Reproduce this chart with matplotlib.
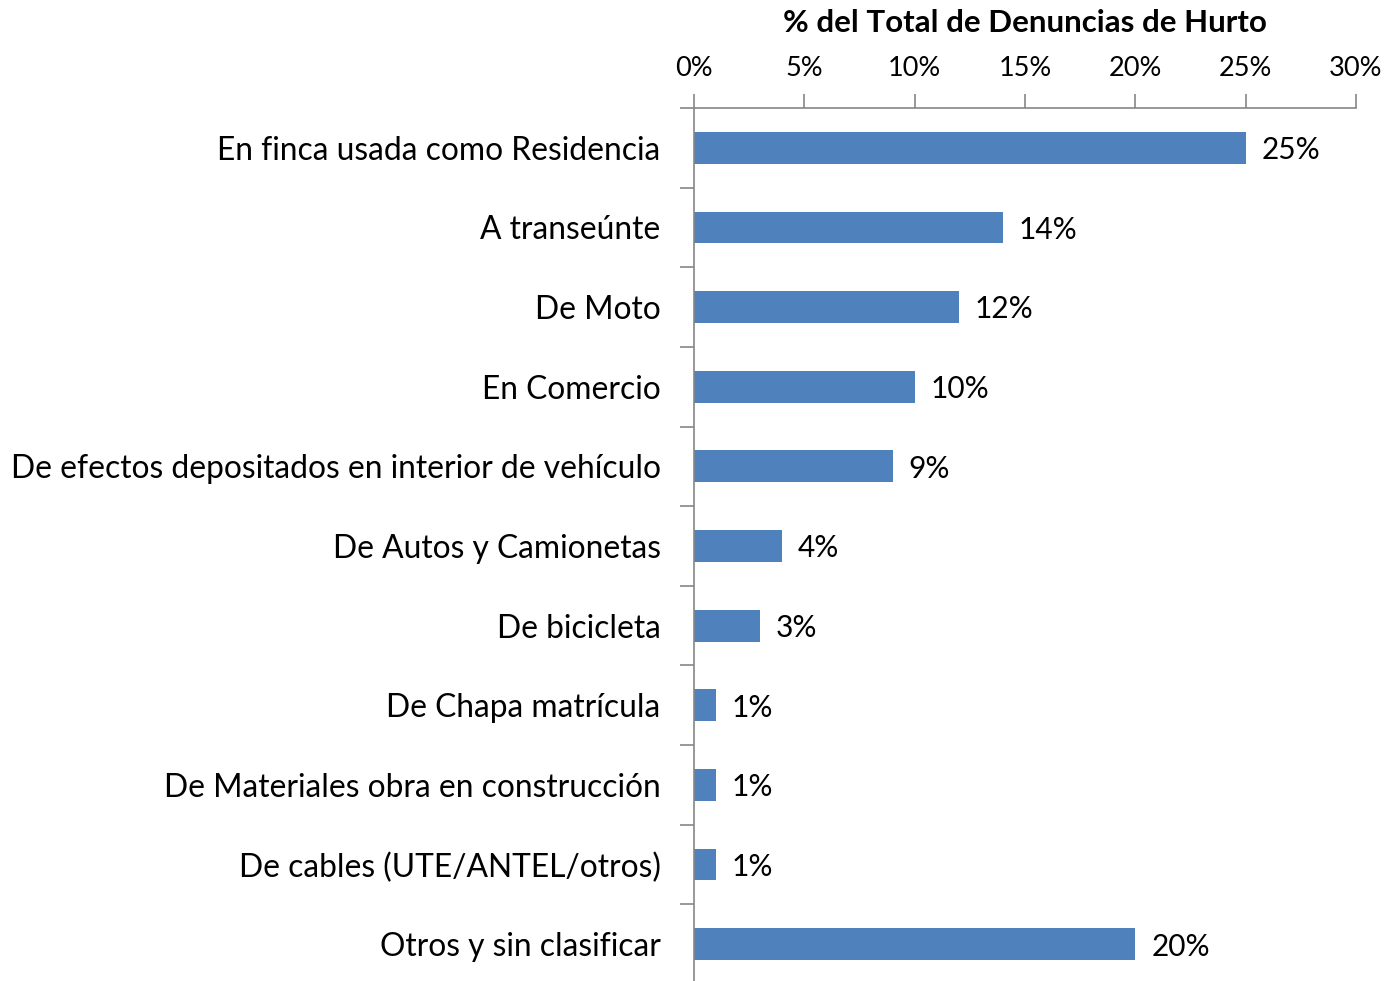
import matplotlib.pyplot as plt
import numpy as np

categories = ["En finca usada como Residencia", "A transeúnte", "De Moto", "En Comercio",
              "De efectos depositados en interior de vehículo", "De Autos y Camionetas",
              "De bicicleta", "De Chapa matrícula", "De Materiales obra en construcción",
              "De cables (UTE/ANTEL/otros)", "Otros y sin clasificar"]
values = [25, 14, 12, 10, 9, 4, 3, 1, 1, 1, 20]
xticks = [0, 5, 10, 15, 20, 25, 30]

plt.rcParams['font.family'] = ['Lato', 'DejaVu Sans']

fig = plt.figure(figsize=(13.91, 9.81), dpi=100)
ax = fig.add_axes([694/1391, 1 - 984/981, (1356 - 694)/1391, (984 - 108)/981])

y = np.arange(len(categories))
ax.barh(y, values, height=0.4, color='#4F81BD')
ax.set_ylim(len(categories) - 0.5, -0.5)
ax.set_xlim(0, 30)

for yi, v in zip(y, values):
    ax.text(v + 0.72, yi + 0.03, f"{v}%", va='center', ha='left', fontsize=21.5)

ax.xaxis.tick_top()
ax.xaxis.set_label_position('top')
ax.set_xticks(xticks)
ax.set_xticklabels([f"{t}%" for t in xticks], fontsize=19.5)
ax.set_xlabel('% del Total de Denuncias de Hurto', fontsize=22.5, fontweight='bold', labelpad=17)

ax.set_yticks(y)
ax.set_yticklabels(categories, fontsize=22.9)
ax.set_yticks(np.arange(len(categories) + 1) - 0.5, minor=True)
ax.tick_params(axis='y', which='major', length=0, pad=24)
ax.tick_params(axis='y', which='minor', length=10, color='#868686', width=1.2)
ax.tick_params(axis='x', length=10, color='#868686', width=1.2, pad=9.5)

for s in ['right', 'bottom']:
    ax.spines[s].set_visible(False)
for s in ['left', 'top']:
    ax.spines[s].set_color('#868686')
    ax.spines[s].set_linewidth(1.2)

fig.savefig('out.png', dpi=100)
